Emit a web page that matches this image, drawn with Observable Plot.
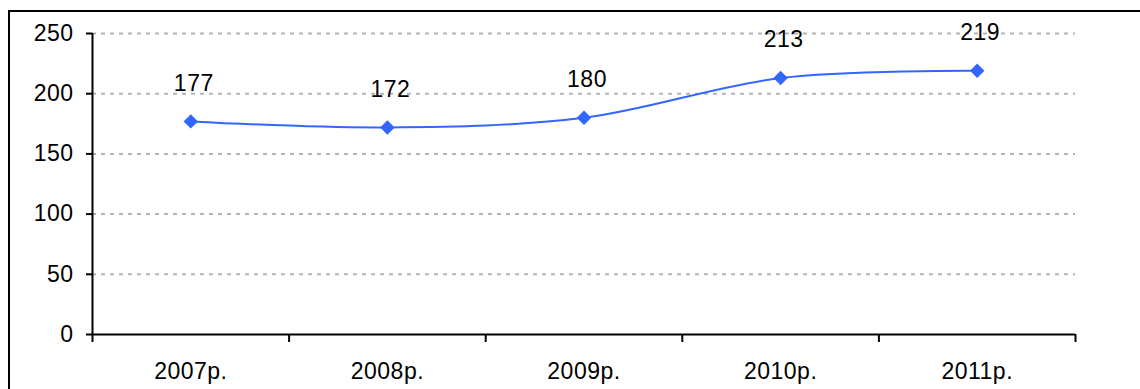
<!DOCTYPE html>
<html>
<head>
<meta charset="utf-8">
<script src="https://cdn.jsdelivr.net/npm/d3@7"></script>
<script src="https://cdn.jsdelivr.net/npm/@observablehq/plot@0.6"></script>
<style>
  html, body { margin: 0; padding: 0; background: #fff; overflow: hidden; }
  #wrap { position: relative; width: 1140px; height: 389px; }
  #frame { position: absolute; left: 8px; top: 10px; width: 1140px; height: 400px; border: 2px solid #000; box-sizing: border-box; pointer-events: none; }
  svg text { letter-spacing: 0.5px; }
</style>
</head>
<body>
<div id="wrap"><div id="frame"></div></div>
<script>
const years = ["2007р.", "2008р.", "2009р.", "2010р.", "2011р."];
const values = [177, 172, 180, 213, 219];
const yTicks = [0, 50, 100, 150, 200, 250];

const data = years.map((y, i) => ({i: i + 0.5, year: y, value: values[i]}));
const bounds = d3.range(0, years.length + 1);
const centers = years.map((_, i) => i + 0.5);
const font = "Liberation Sans, Arial, sans-serif";
const blue = "#3366ff";

const chart = Plot.plot({
  width: 1140,
  height: 389,
  marginLeft: 92,
  marginRight: 65,
  marginTop: 33,
  marginBottom: 55,
  style: {fontFamily: font, fontSize: "23px", color: "#000", background: "transparent"},
  x: {domain: [0, years.length], axis: null, label: null},
  y: {domain: [0, 250], axis: null, label: null},
  marks: [
    Plot.gridY(yTicks.filter(d => d > 0), {stroke: "#b4b4b4", strokeOpacity: 1, strokeWidth: 2, strokeDasharray: "4,5"}),
    Plot.axisY({ticks: yTicks, tickSize: 6, tickPadding: 13, tickFormat: d => String(d), fontSize: 23, strokeWidth: 2, label: null}),
    Plot.axisX({ticks: bounds, tickSize: 8, tickFormat: () => "", strokeWidth: 2, label: null}),
    Plot.axisX({ticks: centers, tickSize: 0, tickPadding: 28, tickFormat: d => years[Math.round(d - 0.5)], fontSize: 23, label: null}),
    Plot.ruleX([0], {stroke: "#000", strokeWidth: 2}),
    Plot.ruleY([0], {stroke: "#000", strokeWidth: 2}),
    Plot.line(data, {x: "i", y: "value", stroke: blue, strokeWidth: 2, curve: "cardinal", tension: 0}),
    Plot.dot(data, {x: "i", y: "value", symbol: "diamond2", r: 6.5, fill: blue, stroke: "none"}),
    Plot.text(data, {x: "i", y: "value", text: d => String(d.value), dy: -38, dx: 3, fontSize: 23, fill: "#000"})
  ]
});
document.getElementById("wrap").insertBefore(chart, document.getElementById("frame"));
</script>
</body>
</html>
